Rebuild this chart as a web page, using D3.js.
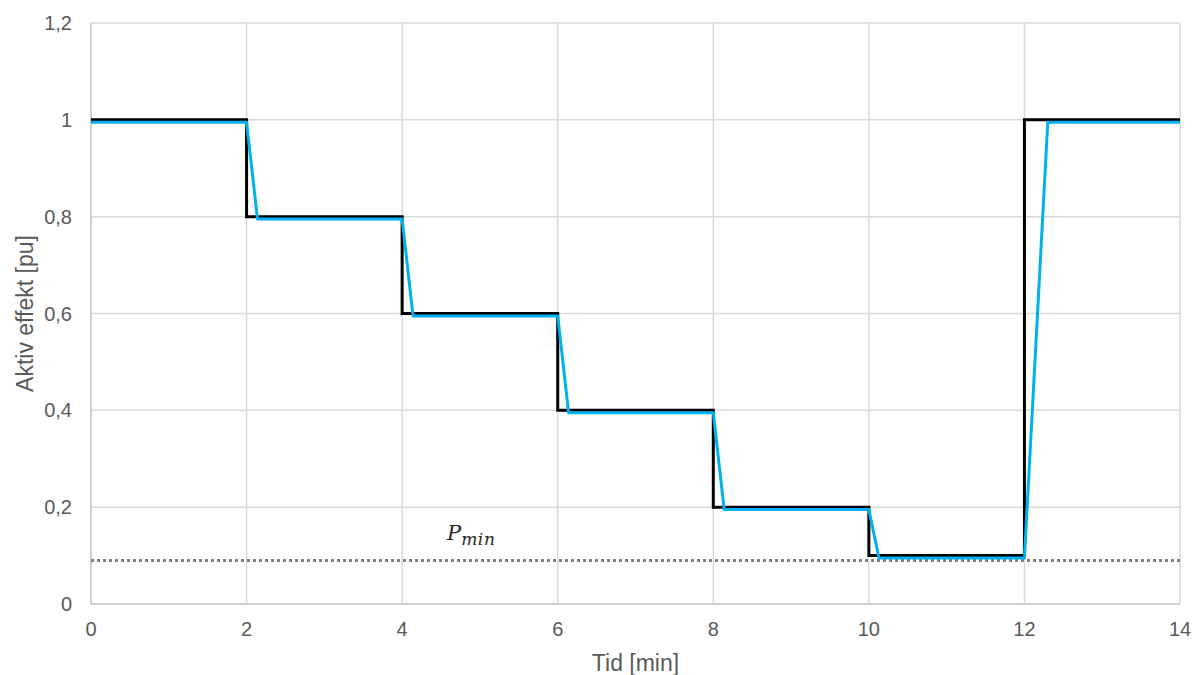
<!DOCTYPE html>
<html>
<head>
<meta charset="utf-8">
<script src="https://cdn.jsdelivr.net/npm/d3@7"></script>
<style>
body{margin:0;background:#fff;}
svg{display:block;font-family:Arial,"Liberation Sans",sans-serif;}
</style>
</head>
<body>
<svg id="c" width="1194" height="675"></svg>
<script>
// Data
const xTicks = [0,2,4,6,8,10,12,14];
const yTicks = [0,0.2,0.4,0.6,0.8,1.0,1.2];
const refTime  = [0,2,2,4,4,6,6,8,8,10,10,12,12,14];
const refPower = [1,1,0.8,0.8,0.6,0.6,0.4,0.4,0.2,0.2,0.1,0.1,1,1];
const measTime  = [0,2,2.14,4,4.14,6,6.14,8,8.14,10,10.13,12,12.3,14];
const measPower = [0.995,0.995,0.795,0.795,0.595,0.595,0.395,0.395,0.195,0.195,0.095,0.095,0.995,0.995];
const pMin = 0.09;
const xLabel = "Tid [min]";
const yLabel = "Aktiv effekt [pu]";

const svg = d3.select("#c");
const m = {l:91, r:1180, t:23, b:604};
const x = d3.scaleLinear().domain([0,14]).range([m.l,m.r]);
const y = d3.scaleLinear().domain([0,1.2]).range([m.b,m.t]);
const fmt = d => d3.format(".1f")(d).replace(".0","").replace(".",",");

// grid
svg.append("g").selectAll("line").data(yTicks).join("line")
  .attr("x1",m.l).attr("x2",m.r).attr("y1",d=>y(d)).attr("y2",d=>y(d))
  .attr("stroke",d=>d===0?"#bfbfbf":"#d9d9d9").attr("stroke-width",1.5);
svg.append("g").selectAll("line").data(xTicks).join("line")
  .attr("y1",m.t).attr("y2",m.b).attr("x1",d=>x(d)).attr("x2",d=>x(d))
  .attr("stroke",d=>d===0?"#bfbfbf":"#d9d9d9").attr("stroke-width",1.5);

// tick labels
svg.append("g").selectAll("text").data(yTicks).join("text")
  .attr("x",72).attr("y",d=>y(d)).attr("dy","0.35em").attr("text-anchor","end")
  .attr("fill","#595959").attr("font-size",20).text(fmt);
svg.append("g").selectAll("text").data(xTicks).join("text")
  .attr("x",d=>x(d)).attr("y",629).attr("dy","0.35em").attr("text-anchor","middle")
  .attr("fill","#595959").attr("font-size",20).text(d=>d);

// axis titles
svg.append("text").attr("x",x(7)).attr("y",671).attr("text-anchor","middle")
  .attr("fill","#595959").attr("font-size",23).text(xLabel);
svg.append("text").attr("transform",`translate(33,${y(0.6)}) rotate(-90)`)
  .attr("text-anchor","middle").attr("fill","#595959").attr("font-size",23).text(yLabel);

// Pmin line
svg.append("line").attr("x1",m.l).attr("x2",m.r).attr("y1",y(pMin)).attr("y2",y(pMin))
  .attr("stroke","#7f7f7f").attr("stroke-width",3).attr("stroke-dasharray","3,3");
const pt = svg.append("text").attr("x",447).attr("y",540)
  .attr("font-family","'DejaVu Serif','Liberation Serif',serif").attr("font-style","italic")
  .attr("fill","#262626").attr("font-size",21);
pt.append("tspan").text("P");
pt.append("tspan").attr("dy",5).attr("font-size",17).attr("letter-spacing",0.6).text("min");

const line = d3.line().x(d=>x(d[0])).y(d=>y(d[1]));
svg.append("path").datum(refTime.map((t,i)=>[t,refPower[i]]))
  .attr("d",line).attr("fill","none").attr("stroke","#000").attr("stroke-width",3).attr("stroke-linejoin","miter");
svg.append("path").datum(measTime.map((t,i)=>[t,measPower[i]]))
  .attr("d",line).attr("fill","none").attr("stroke","#00b0f0").attr("stroke-width",3).attr("stroke-linejoin","round");
</script>
</body>
</html>
